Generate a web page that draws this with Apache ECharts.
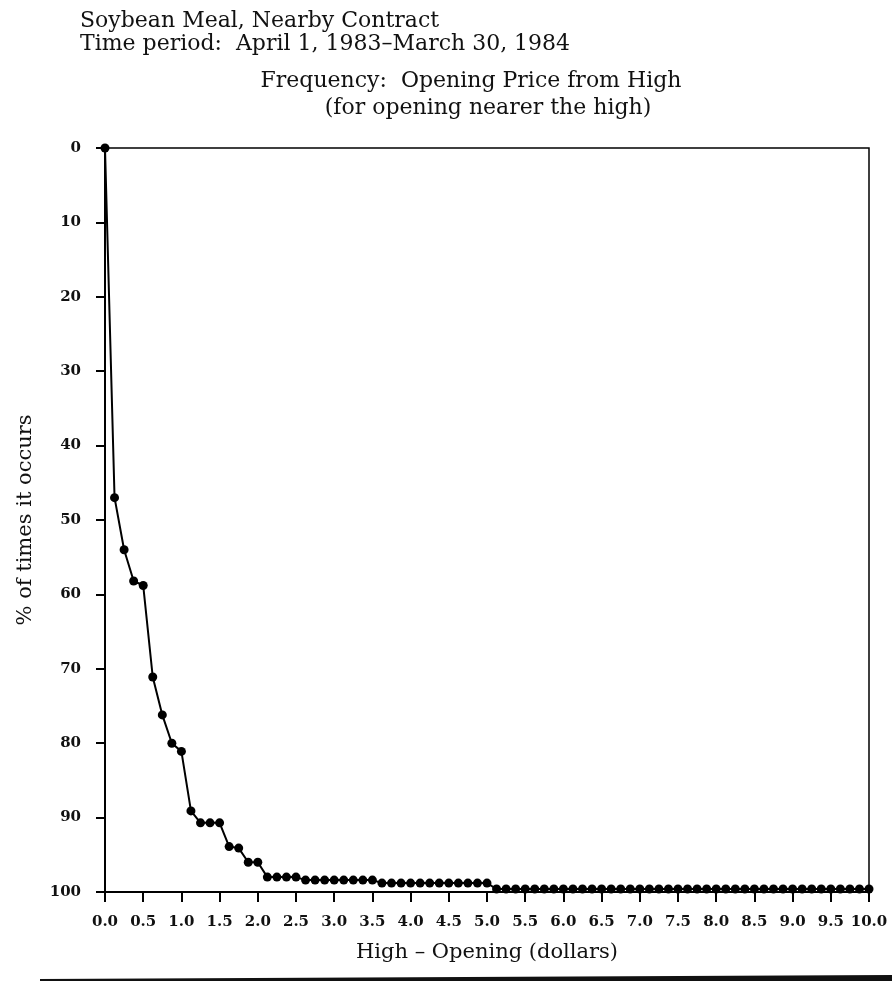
<!DOCTYPE html>
<html>
<head>
<meta charset="utf-8">
<script src="https://cdn.jsdelivr.net/npm/echarts@6/dist/echarts.min.js"></script>
<style>
html,body{margin:0;padding:0;background:#fff;}
#chart{width:892px;height:981px;}
</style>
</head>
<body>
<div id="chart"></div>
<script>
// High - Opening (dollars), one point every 1/8 dollar
const xValues = [
  0, 0.125, 0.25, 0.375, 0.5, 0.625, 0.75, 0.875,
  1, 1.125, 1.25, 1.375, 1.5, 1.625, 1.75, 1.875,
  2, 2.125, 2.25, 2.375, 2.5, 2.625, 2.75, 2.875,
  3, 3.125, 3.25, 3.375, 3.5, 3.625, 3.75, 3.875,
  4, 4.125, 4.25, 4.375, 4.5, 4.625, 4.75, 4.875,
  5, 5.125, 5.25, 5.375, 5.5, 5.625, 5.75, 5.875,
  6, 6.125, 6.25, 6.375, 6.5, 6.625, 6.75, 6.875,
  7, 7.125, 7.25, 7.375, 7.5, 7.625, 7.75, 7.875,
  8, 8.125, 8.25, 8.375, 8.5, 8.625, 8.75, 8.875,
  9, 9.125, 9.25, 9.375, 9.5, 9.625, 9.75, 9.875,
  10
];
// % of times it occurs (cumulative)
const pctValues = [
  0, 47, 54, 58.2, 58.8, 71.1, 76.2, 80.0,
  81.1, 89.1, 90.7, 90.7, 90.7, 93.9, 94.1, 96.0,
  96.0, 98.0, 98.0, 98.0, 98.0, 98.4, 98.4, 98.4,
  98.4, 98.4, 98.4, 98.4, 98.4, 98.8, 98.8, 98.8,
  98.8, 98.8, 98.8, 98.8, 98.8, 98.8, 98.8, 98.8,
  98.8, 99.6, 99.6, 99.6, 99.6, 99.6, 99.6, 99.6,
  99.6, 99.6, 99.6, 99.6, 99.6, 99.6, 99.6, 99.6,
  99.6, 99.6, 99.6, 99.6, 99.6, 99.6, 99.6, 99.6,
  99.6, 99.6, 99.6, 99.6, 99.6, 99.6, 99.6, 99.6,
  99.6, 99.6, 99.6, 99.6, 99.6, 99.6, 99.6, 99.6,
  99.6
];
const xTickLabels = ['0.0','0.5','1.0','1.5','2.0','2.5','3.0','3.5','4.0','4.5','5.0','5.5','6.0','6.5','7.0','7.5','8.0','8.5','9.0','9.5','10.0'];
const yTickLabels = ['0','10','20','30','40','50','60','70','80','90','100'];

const titleLines = ['Soybean Meal, Nearby Contract', 'Time period:  April 1, 1983\u2013March 30, 1984'];
const subTitleLines = ['Frequency:  Opening Price from High', '(for opening nearer the high)'];

const serif = '"DejaVu Serif", "Liberation Serif", serif';
const chart = echarts.init(document.getElementById('chart'));
const seriesData = xValues.map((x, i) => [x, pctValues[i]]);
const tStyle = { fontFamily: serif, fontSize: 22, fontWeight: 'normal', color: '#111', lineHeight: 24 };

chart.setOption({
  backgroundColor: '#fff',
  animation: false,
  title: [
    { text: titleLines[0], left: 80, top: 9, padding: 0, textStyle: tStyle },
    { text: titleLines[1], left: 80, top: 32, padding: 0, textStyle: tStyle },
    { text: subTitleLines[0], left: 471, top: 69, padding: 0, textAlign: 'center', textStyle: tStyle },
    { text: subTitleLines[1], left: 488, top: 96, padding: 0, textAlign: 'center', textStyle: tStyle }
  ],
  grid: { left: 105, right: 23, top: 148, bottom: 89, show: true, borderColor: '#000', borderWidth: 1.5, backgroundColor: 'transparent' },
  xAxis: {
    type: 'value', min: 0, max: 10, interval: 0.5, position: 'bottom',
    name: 'High \u2013 Opening (dollars)', nameLocation: 'middle', nameGap: 50,
    nameTextStyle: { fontFamily: serif, fontSize: 21, color: '#111' },
    axisLine: { show: true, onZero: false, lineStyle: { color: '#000', width: 2 } },
    axisTick: { show: true, inside: false, length: 10, lineStyle: { color: '#000', width: 2 } },
    axisLabel: { margin: 23, fontFamily: serif, fontSize: 15, fontWeight: 'bold', color: '#111',
      formatter: v => xTickLabels[Math.round(v * 2)] },
    splitLine: { show: false }
  },
  yAxis: {
    type: 'value', inverse: true, min: 0, max: 100, interval: 10, position: 'left',
    name: '% of times it occurs', nameLocation: 'middle', nameGap: 69, nameRotate: 90,
    nameTextStyle: { fontFamily: serif, fontSize: 21, color: '#111' },
    axisLine: { show: true, onZero: false, lineStyle: { color: '#000', width: 2 } },
    axisTick: { show: true, inside: false, length: 9, lineStyle: { color: '#000', width: 2 } },
    axisLabel: { margin: 24, fontFamily: serif, fontSize: 15, fontWeight: 'bold', color: '#111',
      formatter: v => yTickLabels[Math.round(v / 10)] },
    splitLine: { show: false }
  },
  series: [{
    type: 'line',
    data: seriesData,
    symbol: 'circle',
    symbolSize: 9,
    showSymbol: true,
    clip: false,
    lineStyle: { color: '#000', width: 2 },
    itemStyle: { color: '#000' }
  }],
  graphic: [{
    type: 'polygon',
    shape: { points: [[40, 979], [892, 975], [892, 981], [40, 981]] },
    style: { fill: '#111' },
    silent: true
  }]
});
</script>
</body>
</html>
